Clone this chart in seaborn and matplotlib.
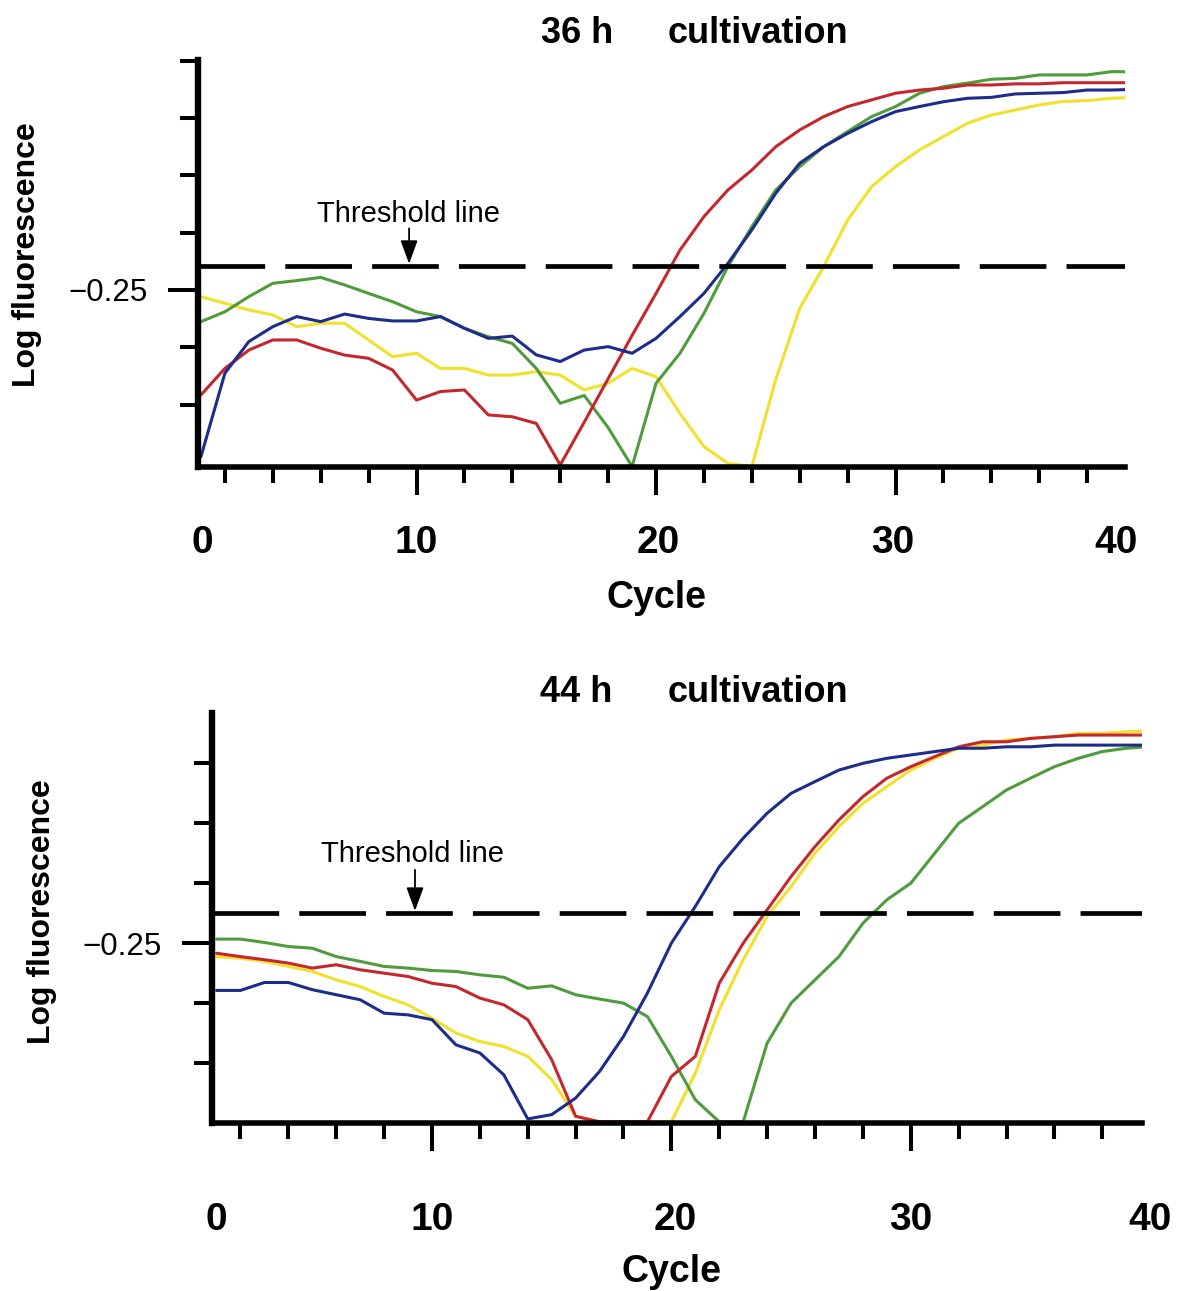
import matplotlib
matplotlib.use("Agg")
import matplotlib.pyplot as plt
import pandas as pd
import seaborn as sns

# ---------------------------------------------------------------- data
cycles = list(range(1, 41))
samples = ["Sample 1", "Sample 2", "Sample 3", "Sample 4"]
sample_colors = ["#F2E12C", "#4F9C3C", "#C4282E", "#1E2C8C"]  # yellow, green, red, blue

# 36 h cultivation, log fluorescence per cycle
yellow_36h = [-0.279, -0.308, -0.337, -0.359, -0.410, -0.395, -0.395, -0.468, -0.541, -0.526,
              -0.592, -0.592, -0.621, -0.621, -0.606, -0.621, -0.686, -0.657, -0.592, -0.628,
              -0.788, -0.933, -1.006, -1.020, -0.640, -0.330, -0.148, 0.055, 0.201, 0.288,
              0.361, 0.419, 0.477, 0.513, 0.535, 0.557, 0.572, 0.576, 0.586, 0.590]
green_36h = [-0.388, -0.345, -0.279, -0.221, -0.209, -0.195, -0.228, -0.265, -0.301, -0.345,
             -0.366, -0.417, -0.454, -0.483, -0.592, -0.744, -0.710, -0.850, -1.020, -0.657,
             -0.526, -0.352, -0.148, 0.026, 0.186, 0.288, 0.375, 0.441, 0.506, 0.550,
             0.608, 0.637, 0.652, 0.669, 0.673, 0.688, 0.688, 0.688, 0.702, 0.702]
red_36h = [-0.708, -0.592, -0.512, -0.468, -0.468, -0.504, -0.534, -0.548, -0.599, -0.730,
           -0.693, -0.686, -0.795, -0.803, -0.832, -1.013, -0.827, -0.637, -0.448, -0.265,
           -0.076, 0.070, 0.186, 0.273, 0.375, 0.448, 0.506, 0.550, 0.579, 0.608,
           0.622, 0.630, 0.644, 0.644, 0.649, 0.649, 0.654, 0.654, 0.654, 0.654]
blue_36h = [-0.977, -0.613, -0.475, -0.410, -0.366, -0.388, -0.355, -0.374, -0.385, -0.385,
            -0.366, -0.417, -0.461, -0.451, -0.533, -0.562, -0.512, -0.497, -0.526, -0.461,
            -0.366, -0.265, -0.134, 0.012, 0.172, 0.303, 0.375, 0.433, 0.484, 0.528,
            0.550, 0.571, 0.586, 0.590, 0.605, 0.608, 0.611, 0.622, 0.622, 0.625]

# 44 h cultivation, log fluorescence per cycle
yellow_44h = [-0.306, -0.313, -0.326, -0.347, -0.368, -0.403, -0.431, -0.472, -0.507, -0.563,
              -0.625, -0.660, -0.681, -0.722, -0.819, -0.972, -0.995, -0.995, -0.995, -0.995,
              -0.792, -0.528, -0.319, -0.139, -0.014, 0.125, 0.236, 0.333, 0.403, 0.472,
              0.521, 0.563, 0.576, 0.597, 0.604, 0.611, 0.625, 0.625, 0.632, 0.636]
green_44h = [-0.233, -0.233, -0.247, -0.264, -0.271, -0.306, -0.326, -0.347, -0.354, -0.364,
             -0.368, -0.382, -0.392, -0.438, -0.428, -0.465, -0.483, -0.500, -0.556, -0.722,
             -0.903, -0.995, -0.995, -0.667, -0.500, -0.403, -0.306, -0.167, -0.069, 0.000,
             0.125, 0.250, 0.319, 0.389, 0.438, 0.486, 0.521, 0.549, 0.563, 0.570]
red_44h = [-0.292, -0.306, -0.319, -0.333, -0.354, -0.340, -0.361, -0.375, -0.389, -0.417,
           -0.431, -0.479, -0.507, -0.569, -0.736, -0.972, -0.995, -0.995, -0.995, -0.806,
           -0.722, -0.417, -0.250, -0.111, 0.028, 0.153, 0.264, 0.361, 0.438, 0.486,
           0.528, 0.569, 0.590, 0.590, 0.604, 0.611, 0.618, 0.618, 0.618, 0.618]
blue_44h = [-0.447, -0.447, -0.414, -0.414, -0.444, -0.465, -0.486, -0.542, -0.549, -0.569,
            -0.674, -0.708, -0.799, -0.983, -0.965, -0.896, -0.785, -0.639, -0.458, -0.250,
            -0.097, 0.069, 0.188, 0.292, 0.375, 0.424, 0.472, 0.500, 0.521, 0.535,
            0.549, 0.563, 0.563, 0.569, 0.569, 0.576, 0.576, 0.576, 0.576, 0.576]

threshold_36h = -0.145
threshold_44h = -0.124

x_tick_labels = ["0", "10", "20", "30", "40"]
y_tick_label = "\u22120.25"
panel_titles = [("36 h", "cultivation"), ("44 h", "cultivation")]


def long_form(series):
    rows = []
    for name, values in zip(samples, series):
        for c, v in zip(cycles, values):
            rows.append({"cycle": c, "log_fluorescence": v, "sample": name})
    return pd.DataFrame(rows)


df_36h = long_form([yellow_36h, green_36h, red_36h, blue_36h])
df_44h = long_form([yellow_44h, green_44h, red_44h, blue_44h])

# ---------------------------------------------------------------- style
sns.set_theme(style="ticks")
plt.rcParams["font.family"] = ["Liberation Sans", "DejaVu Sans"]
plt.rcParams["lines.scale_dashes"] = False
for key in ("text.color", "axes.labelcolor", "xtick.color", "ytick.color", "axes.edgecolor"):
    plt.rcParams[key] = "black"
narrow = ["Liberation Sans Narrow", "Liberation Sans", "DejaVu Sans"]

W, H = 1178, 1291
fig = plt.figure(figsize=(W / 100, H / 100), dpi=100)
fig.patch.set_facecolor("white")


def box(left, top, right, bottom):
    return [left / W, 1 - bottom / H, (right - left) / W, (bottom - top) / H]


panels = [
    dict(df=df_36h, thr=threshold_36h, rect=box(198, 60, 1125, 467),
         xlim=(0.877, 39.58), ylim=(-1.022, 0.753),
         yminor=[-0.75, -0.5, 0.0, 0.25, 0.5, 0.75],
         label_x=[1.05, 10.0, 20.1, 29.9, 39.2], label_base=-0.211, cycle_base=-0.346,
         arrow_x=9.69, arrow_len=27, text_x=9.65, text_off=31.5,
         title_px=(541, 668, 43), ylabel_px=(27, 255)),
    dict(df=df_44h, thr=threshold_44h, rect=box(212, 713, 1142, 1123),
         xlim=(0.81, 39.66), ylim=(-1.0, 0.71),
         yminor=[-0.75, -0.5, 0.0, 0.25, 0.5],
         label_x=[1.0, 10.0, 20.15, 30.0, 40.0], label_base=-0.261, cycle_base=-0.389,
         arrow_x=9.29, arrow_len=31, text_x=9.2, text_off=36.5,
         title_px=(540, 668, 702), ylabel_px=(42, 912)),
]

for p, (left_title, right_title) in zip(panels, panel_titles):
    ax = fig.add_axes(p["rect"])
    sns.lineplot(data=p["df"], x="cycle", y="log_fluorescence", hue="sample",
                 hue_order=samples, palette=dict(zip(samples, sample_colors)),
                 estimator=None, sort=False, linewidth=2.2, legend=False, ax=ax)
    ax.set_xlim(*p["xlim"])
    ax.set_ylim(*p["ylim"])
    ax.set_xlabel("")
    ax.set_ylabel("")

    for side in ("top", "right"):
        ax.spines[side].set_visible(False)
    ax.spines["left"].set_linewidth(4.6)
    ax.spines["bottom"].set_linewidth(4.0)
    for side in ("left", "bottom"):
        ax.spines[side].set_color("black")
        ax.spines[side].set_zorder(4)

    # x ticks: long marks every 10 cycles, short marks every 2
    ax.set_xticks([10, 20, 30])
    ax.set_xticks([c for c in range(2, 40, 2) if c % 10], minor=True)
    ax.tick_params(axis="x", which="major", bottom=True, direction="out",
                   length=20, width=2.9, color="black", labelbottom=False)
    ax.tick_params(axis="x", which="minor", bottom=True, direction="out",
                   length=11.5, width=2.9, color="black")

    # y ticks: only -0.25 carries a label
    ax.set_yticks([-0.25])
    ax.set_yticklabels([y_tick_label])
    ax.set_yticks(p["yminor"], minor=True)
    ax.tick_params(axis="y", which="major", left=True, direction="out",
                   length=21.5, width=2.9, color="black", pad=15,
                   labelsize=22.5, labelcolor="black")
    ax.tick_params(axis="y", which="minor", left=True, direction="out",
                   length=13, width=2.9, color="black")

    xt = ax.get_xaxis_transform()
    for x, lab in zip(p["label_x"], x_tick_labels):
        ax.text(x, p["label_base"], lab, transform=xt, ha="center", va="baseline",
                fontsize=28, fontweight="bold", family=narrow, clip_on=False)
    ax.text(20.0, p["cycle_base"], "Cycle", transform=xt, ha="center", va="baseline",
            fontsize=27, fontweight="bold", family=narrow, clip_on=False)

    # threshold
    ax.axhline(p["thr"], color="black", linewidth=3.4, linestyle=(0, (48, 14.5)),
               dash_capstyle="butt", zorder=3)
    ax.annotate("", xy=(p["arrow_x"], p["thr"]), xytext=(0, p["arrow_len"]),
                textcoords="offset points",
                arrowprops=dict(arrowstyle="-|>,head_length=0.6,head_width=0.22",
                                mutation_scale=24, color="black", lw=1.3,
                                shrinkA=0, shrinkB=1.5))
    ax.annotate("Threshold line", xy=(p["text_x"], p["thr"]), xytext=(0, p["text_off"]),
                textcoords="offset points", ha="center", va="baseline",
                fontsize=21, color="black")

    tl, tr, tb = p["title_px"]
    fig.text(tl / W, 1 - tb / H, left_title, ha="left", va="baseline",
             fontsize=26, fontweight="bold")
    fig.text(tr / W, 1 - tb / H, right_title, ha="left", va="baseline",
             fontsize=26, fontweight="bold")
    lx, ly = p["ylabel_px"]
    fig.text(lx / W, 1 - ly / H, "Log fluorescence", rotation=90, ha="center",
             va="center", fontsize=23, fontweight="bold")

fig.savefig("out.png", dpi=100, facecolor="white")
